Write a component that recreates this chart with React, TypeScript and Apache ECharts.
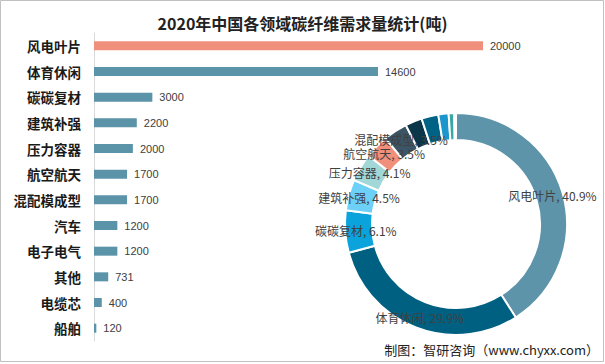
import React, { useEffect, useRef } from "react";
import * as echarts from "echarts";

const categories = ["风电叶片", "体育休闲", "碳碳复材", "建筑补强", "压力容器", "航空航天", "混配模成型", "汽车", "电子电气", "其他", "电缆芯", "船舶"];
const values = [20000, 14600, 3000, 2200, 2000, 1700, 1700, 1200, 1200, 731, 400, 120];
const pieColors = ["#5e94aa", "#006082", "#0aa3dc", "#6dd0f7", "#a2d7d8", "#f0907c", "#3b5566", "#0b3549", "#006284", "#1a96cc", "#3aa6a6", "#9fd0d0"];
const pieLabelShown = [true, true, true, true, true, true, true, false, false, false, false, false];
const titleText = "2020年中国各领域碳纤维需求量统计(吨)";
const sourceText = "制图：智研咨询（www.chyxx.com）";

export default function App() {
  const ref = useRef<HTMLDivElement>(null);
  useEffect(() => {
    if (!ref.current) return;
    const chart = echarts.init(ref.current, undefined, { renderer: "svg" });
    const font = "'Noto Sans CJK SC', 'Noto Sans', sans-serif";
    chart.setOption({
      animation: false,
      backgroundColor: "#ffffff",
      title: {
        text: titleText,
        left: "center",
        top: 10,
        textStyle: { fontSize: 16, fontWeight: "bold", color: "#222", fontFamily: font },
      },
      grid: { left: 94, right: 122, top: 33, height: 308, containLabel: false },
      xAxis: { type: "value", min: 0, max: 20000, show: false },
      yAxis: {
        type: "category",
        data: categories,
        inverse: true,
        axisLine: { show: true, lineStyle: { color: "#d9d9d9", width: 1 } },
        axisTick: { show: false },
        axisLabel: { fontSize: 13.5, fontWeight: "bold", color: "#1a1a1a", fontFamily: font, margin: 13 },
      },
      series: [
        {
          type: "bar",
          data: values.map((v, i) => ({ value: v, itemStyle: { color: i === 0 ? "#f0907c" : "#5b93a8" } })),
          barWidth: 9,
          label: {
            show: true,
            position: "right",
            distance: 7,
            color: "#404040",
            fontSize: 11,
            fontFamily: "'Liberation Sans', Arial, sans-serif",
          },
        },
        {
          type: "pie",
          center: [456, 224],
          radius: [84, 111],
          startAngle: 90,
          clockwise: true,
          percentPrecision: 1,
          avoidLabelOverlap: false,
          itemStyle: { borderColor: "#ffffff", borderWidth: 2 },
          label: {
            position: "inside",
            formatter: "{b}, {d}%",
            color: "#404040",
            fontSize: 12,
            fontFamily: font,
            textBorderWidth: 0,
            textBorderColor: "transparent",
          },
          labelLine: { show: false },
          data: categories.map((c, i) => ({
            name: c,
            value: values[i],
            itemStyle: { color: pieColors[i] },
            label: { show: pieLabelShown[i] },
          })),
          z: 3,
        },
      ],
      graphic: [
        {
          type: "rect",
          shape: { x: 0.5, y: 0.5, width: 603, height: 361 },
          style: { fill: "none", stroke: "#c0c0c0", lineWidth: 1 },
          silent: true,
        },
        {
          type: "text",
          right: 6,
          top: 343,
          style: { text: sourceText, fontSize: 13, fill: "#222", fontFamily: font },
        },
      ],
    });
    return () => chart.dispose();
  }, []);
  return (
    <div style={{ position: "absolute", left: 0, top: 0, width: 605, height: 364 }}>
      <div ref={ref} style={{ width: 605, height: 364 }} />
    </div>
  );
}
